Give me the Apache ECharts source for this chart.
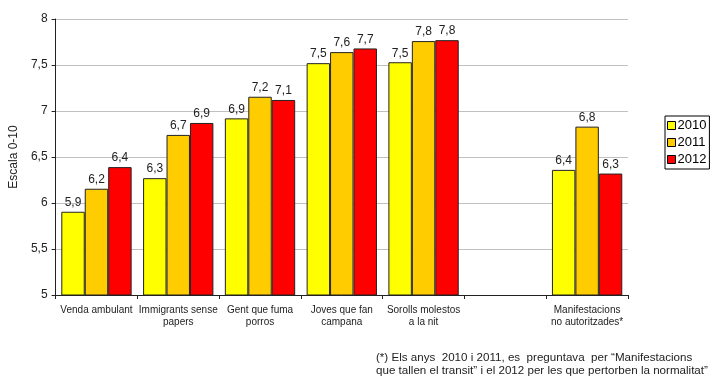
<!DOCTYPE html>
<html><head><meta charset="utf-8">
<script src="https://cdn.jsdelivr.net/npm/echarts@6/dist/echarts.min.js"></script>
<style>html,body{margin:0;padding:0;background:#fff}#c{width:713px;height:379px}</style>
</head><body><div id="c"></div>
<script>
const categories = ['Venda ambulant', 'Immigrants sense\npapers', 'Gent que fuma\nporros', 'Joves que fan\ncampana', 'Sorolls molestos\na la nit', '', 'Manifestacions\nno autoritzades*'];
const years = ['2010', '2011', '2012'];
const v2010 = [5.905, 6.27, 6.92, 7.52, 7.53, null, 6.36];
const v2011 = [6.155, 6.74, 7.155, 7.64, 7.76, null, 6.83];
const v2012 = [6.39, 6.87, 7.12, 7.68, 7.77, null, 6.32];
const yTicks = [5, 5.5, 6, 6.5, 7, 7.5, 8];
const footnote = ['(*) Els anys  2010 i 2011, es  preguntava  per \u201cManifestacions', 'que tallen el transit\u201d i el 2012 per les que pertorben la normalitat\u201d'];
const colors = ['#FFFF00', '#FFCC00', '#FF0000'];
const font = 'Liberation Sans, Arial, sans-serif';
const fmt = v => v.toFixed(1).replace('.', ',');
const chart = echarts.init(document.getElementById('c'), null, {renderer: 'canvas'});
const mk = (name, data, i) => ({
  name, type: 'bar', data, barGap: '0%', barCategoryGap: '14%',
  itemStyle: {color: colors[i], borderColor: '#222', borderWidth: 1},
  label: {show: true, position: 'top', distance: 3, fontFamily: font, fontSize: 12, color: '#222',
    formatter: p => fmt(p.value)},
  animation: false
});
chart.setOption({
  animation: false,
  grid: {left: 55, right: 85, top: 19, bottom: 84},
  legend: {
    orient: 'vertical', left: 665, top: 116,
    data: years, icon: 'rect', itemWidth: 8, itemHeight: 8, itemGap: 4,
    borderColor: '#000', borderWidth: 1, padding: [3, 3, 3, 2],
    textStyle: {fontFamily: font, fontSize: 13, color: '#000', padding: [0, 0, 0, -3]},
    itemStyle: {borderColor: '#000', borderWidth: 1}
  },
  xAxis: {
    type: 'category', data: categories,
    axisLine: {lineStyle: {color: '#222'}},
    axisTick: {show: true, length: 4, lineStyle: {color: '#222'}},
    axisLabel: {interval: 0, fontFamily: font, fontSize: 10, color: '#222', lineHeight: 12, margin: 9}
  },
  yAxis: {
    type: 'value', min: yTicks[0], max: yTicks[yTicks.length - 1], interval: 0.5,
    name: 'Escala 0-10', nameLocation: 'middle', nameGap: 28, nameRotate: 90,
    nameTextStyle: {fontFamily: font, fontSize: 12, color: '#222'},
    axisLine: {show: true, lineStyle: {color: '#222'}},
    axisTick: {show: true, length: 4, lineStyle: {color: '#222'}},
    axisLabel: {fontFamily: font, fontSize: 12, color: '#222', margin: 8, formatter: v => String(v).replace('.', ',')},
    splitLine: {lineStyle: {color: '#c0c0c0'}}
  },
  series: [mk(years[0], v2010, 0), mk(years[1], v2011, 1), mk(years[2], v2012, 2)],
  graphic: [{
    type: 'text', left: 376, top: 351,
    style: {text: footnote.join('\n'), fontFamily: font, fontSize: 11.6, fill: '#222', lineHeight: 13}
  }]
});
</script></body></html>
